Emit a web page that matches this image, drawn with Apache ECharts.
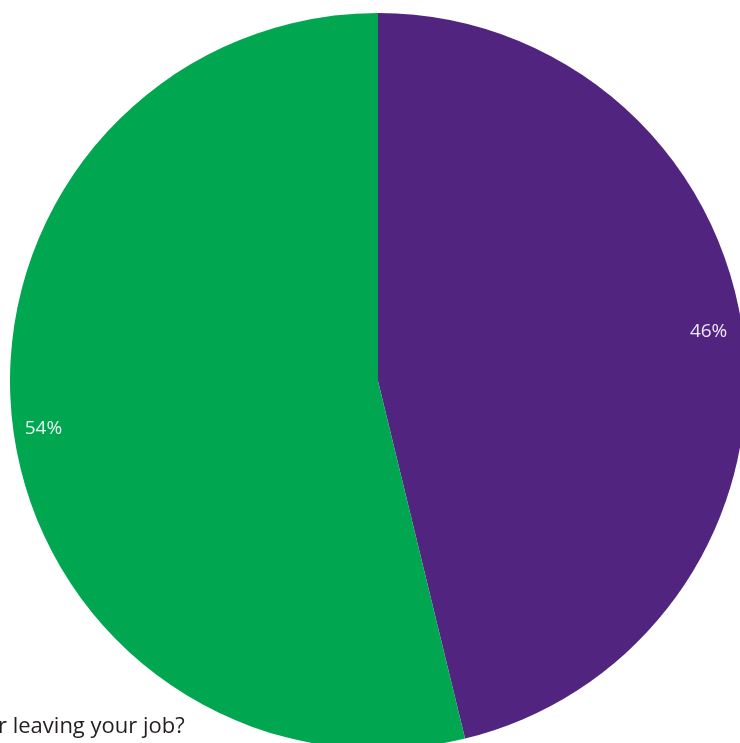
<!DOCTYPE html>
<html>
<head>
<meta charset="utf-8">
<script src="https://cdn.jsdelivr.net/npm/echarts@6/dist/echarts.min.js"></script>
<style>html,body{margin:0;padding:0;background:#fff}#c{width:740px;height:743px}</style>
</head>
<body>
<div id="c"></div>
<script>
const categories = ['Yes', 'No'];
const values = [46.2, 53.8];
const labels = ['46%', '54%'];
const colors = ['#512480', '#00a650'];
const labelColors = ['#eee6f5', '#e6f6ec'];
const titleText = 'r leaving your job?';

const chart = echarts.init(document.getElementById('c'), null, {renderer: 'canvas'});
const data = categories.map((c, i) => ({
  name: c, value: values[i],
  itemStyle: {color: colors[i]},
  label: {formatter: labels[i], color: labelColors[i], fontSize: 19, fontFamily: 'Open Sans'}
}));
const labelShift = [[-3, -9], [-1, 8]];
chart.setOption({
  animation: false,
  graphic: [{
    type: 'text', left: -2, top: 716,
    style: {text: titleText, fontSize: 22, fontFamily: 'Open Sans', fill: '#231f20'}
  }],
  series: [{
    type: 'pie', center: [378, 381], radius: [0, 368],
    startAngle: 90, clockwise: true, silent: true,
    label: {show: false}, labelLine: {show: false},
    itemStyle: {borderWidth: 0},
    data: data.map(d => ({name: d.name, value: d.value, itemStyle: d.itemStyle}))
  }, {
    type: 'pie', center: [378, 381], radius: [298, 368],
    startAngle: 90, clockwise: true, silent: true,
    itemStyle: {color: 'transparent', borderWidth: 0},
    label: {show: true, position: 'inside', fontSize: 19, fontFamily: 'Open Sans', rotate: 0},
    labelLine: {show: false},
    labelLayout: function (p) { return {dx: labelShift[p.dataIndex][0], dy: labelShift[p.dataIndex][1]}; },
    data: data.map(d => ({name: d.name, value: d.value, itemStyle: {color: 'transparent'}, label: d.label}))
  }]
});
</script>
</body>
</html>
